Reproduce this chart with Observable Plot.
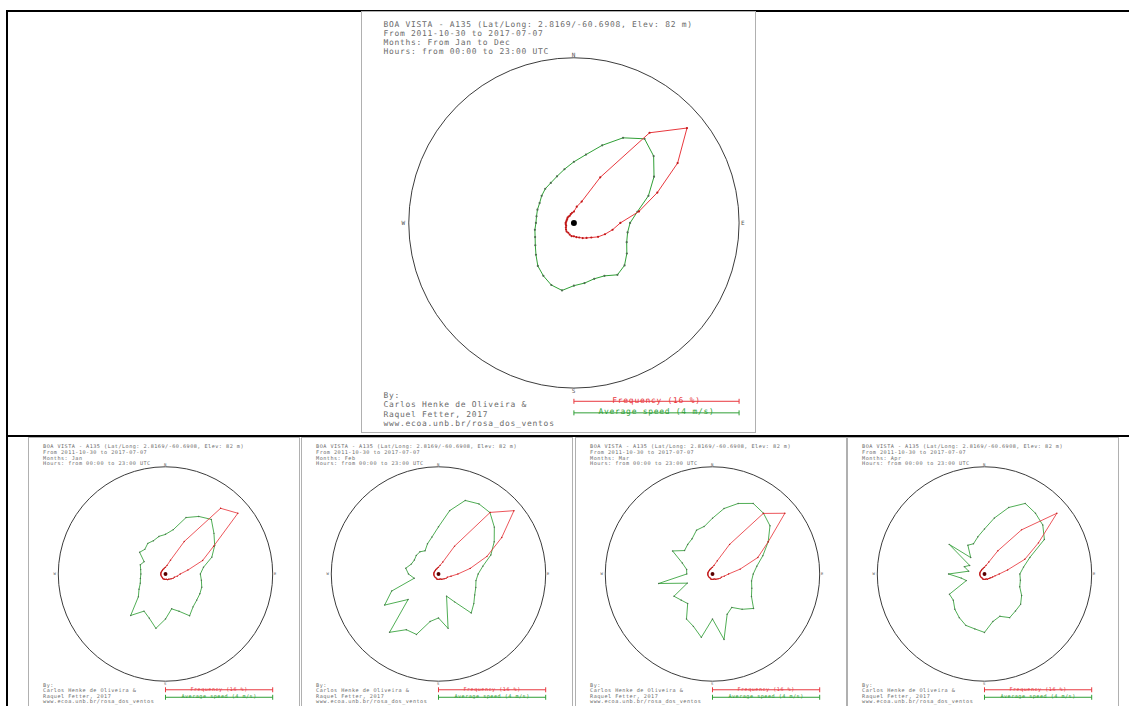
<!DOCTYPE html>
<html><head><meta charset="utf-8">
<script src="https://cdn.jsdelivr.net/npm/d3@7"></script>
<script src="https://cdn.jsdelivr.net/npm/@observablehq/plot@0.6"></script>
<style>
html,body{margin:0;padding:0;background:#fff;overflow:hidden}
#page{position:relative;width:1129px;height:706px;overflow:hidden}
.ln{position:absolute;background:#000}
.panel{position:absolute;border:1px solid #b0b0b0;box-sizing:border-box;overflow:hidden;background:#fff}
.panel svg{display:block}
</style></head><body>
<div id="page">
  <div class="ln" style="left:6px;top:10px;width:1123px;height:2px"></div>
  <div class="ln" style="left:6px;top:10px;width:2px;height:696px"></div>
  <div class="ln" style="left:6px;top:435px;width:1123px;height:2px"></div>
</div>
<script>
// ---- data (36 directions, degrees clockwise from north) ----
const directions = [0,10,20,30,40,50,60,70,80,90,100,110,120,130,140,150,160,170,180,190,200,210,220,230,240,250,260,270,280,290,300,310,320,330,340,350];
const freqMax = 16;   // % at the circle
const speedMax = 4;   // m/s at the circle

const stationLine = "BOA VISTA - A135 (Lat/Long: 2.8169/-60.6908, Elev: 82 m)";
const periodLine = "From 2011-10-30 to 2017-07-07";
const hoursLine = "Hours: from 00:00 to 23:00 UTC";
const creditLines = ["By:", "Carlos Henke de Oliveira &", "Raquel Fetter, 2017", "www.ecoa.unb.br/rosa_dos_ventos"];
const cardinals = ["N", "E", "S", "W"];
const cardinalAngles = [0, 90, 180, 270];

const allFreq  = [1.1,1.6,2.2,5.1,11.4,14.3,11.6,8.6,6.4,4.5,3.8,3.2,2.7,2.2,1.9,1.7,1.5,1.4,1.3,1.3,1.2,1.1,1.1,1.0,0.9,0.8,0.8,0.8,0.75,0.75,0.75,0.8,0.8,0.8,0.9,1.0];
const allSpeed = [1.48,1.68,2.00,2.38,2.66,2.52,2.24,1.92,1.56,1.36,1.32,1.36,1.48,1.60,1.64,1.48,1.44,1.48,1.52,1.66,1.60,1.48,1.36,1.20,1.08,1.00,0.96,0.92,0.92,0.94,0.96,1.02,1.08,1.12,1.20,1.32];

const janFreq  = [1.0,1.3,2.2,5.6,12.8,14.1,8.3,5.9,3.4,2.2,1.8,1.4,1.3,1.1,1.0,0.9,0.9,0.8,0.8,0.8,0.8,0.8,0.7,0.7,0.7,0.7,0.7,0.7,0.7,0.7,0.7,0.7,0.7,0.8,0.8,0.9];
const janSpeed = [1.48,1.68,2.24,2.48,2.66,2.36,2.12,1.84,1.44,1.30,1.36,1.44,1.48,1.52,1.60,1.80,1.48,1.32,1.68,2.06,1.76,1.60,2.02,1.32,1.14,1.00,0.95,0.92,0.94,1.00,0.92,1.26,1.20,1.32,1.32,1.42];

const febFreq  = [1.0,1.3,1.9,4.8,12.0,14.7,10.9,7.7,4.8,2.9,1.9,1.4,1.3,1.1,1.0,0.9,0.8,0.8,0.8,0.8,0.8,0.7,0.7,0.7,0.7,0.7,0.7,0.7,0.7,0.7,0.7,0.7,0.7,0.8,0.8,0.9];
const febSpeed = [1.76,2.40,2.92,3.02,2.99,2.72,2.40,2.08,1.68,1.48,1.42,1.48,1.56,1.72,1.90,1.20,0.88,2.06,1.64,1.80,2.40,2.40,2.84,1.48,2.32,1.86,0.92,1.12,1.24,1.08,1.04,1.08,1.08,1.00,1.20,1.40];

const marFreq  = [1.0,1.3,2.1,5.1,11.8,14.1,9.6,7.2,4.2,2.4,1.8,1.4,1.3,1.1,1.0,0.9,0.8,0.8,0.8,0.8,0.8,0.7,0.7,0.7,0.7,0.7,0.7,0.7,0.7,0.7,0.7,0.7,0.7,0.8,0.8,0.9];
const marSpeed = [2.08,2.48,2.80,3.04,2.96,2.80,2.40,2.00,1.68,1.52,1.48,1.56,1.68,2.00,1.72,1.44,1.60,2.48,1.68,2.40,2.08,1.94,1.44,1.52,1.66,1.00,2.04,0.96,0.98,1.20,1.72,1.36,1.44,1.52,1.74,1.80];

const aprFreq  = [1.0,1.3,1.9,4.0,8.6,14.1,9.3,6.4,3.5,2.2,1.6,1.3,1.1,1.0,0.9,0.9,0.8,0.8,0.8,0.8,0.8,0.7,0.7,0.7,0.7,0.7,0.7,0.7,0.7,0.7,0.7,0.7,0.7,0.8,0.8,0.9];
const aprSpeed = [1.68,2.12,2.64,3.04,2.96,2.84,2.58,1.80,1.48,1.32,1.36,1.40,1.60,1.76,1.80,1.88,1.68,1.80,2.18,2.08,2.04,1.88,1.72,1.52,1.51,0.72,0.88,1.34,0.60,0.80,0.64,1.72,0.80,1.24,1.20,1.41];

const panels = [
  {months: "Months: From Jan to Dec", freq: allFreq, speed: allSpeed, left: 361, top: 11, W: 395, H: 422, cx: 212.5, cy: 211.5, R: 166, k: 1},
  {months: "Months: Jan", freq: janFreq, speed: janSpeed, left: 28,  top: 437, W: 272, H: 274, cx: 137, cy: 136.5, R: 108, k: 0.65},
  {months: "Months: Feb", freq: febFreq, speed: febSpeed, left: 301, top: 437, W: 272, H: 274, cx: 137, cy: 136.5, R: 108, k: 0.65},
  {months: "Months: Mar", freq: marFreq, speed: marSpeed, left: 575, top: 437, W: 272, H: 274, cx: 137, cy: 136.5, R: 108, k: 0.65},
  {months: "Months: Apr", freq: aprFreq, speed: aprSpeed, left: 847, top: 437, W: 272, H: 274, cx: 137, cy: 136.5, R: 108, k: 0.65}
];

const RED = "#e8363c", GREEN = "#2e9e34", TXT = "#6a6a6a";

function polar(values, max) {
  return directions.map((dir, i) => {
    const a = dir * Math.PI / 180, r = values[i] / max;
    return {dir, value: values[i], x: r * Math.sin(a), y: r * Math.cos(a)};
  });
}

function rose(p) {
  const k = p.k;
  const fs = 8 * k;
  const small = k < 1;
  const red = polar(p.freq, freqMax);
  const green = polar(p.speed, speedMax);
  const card = cardinals.map((c, i) => ({c, x: Math.sin(cardinalAngles[i]*Math.PI/180), y: Math.cos(cardinalAngles[i]*Math.PI/180)}));
  const legend = [
    {label: `Frequency (${freqMax} %)`, color: RED, y: -1.08, x1: 0, x2: 1},
    {label: `Average speed (${speedMax} m/s)`, color: GREEN, y: -1.15, x1: 0, x2: 1}
  ];
  const ends = legend.flatMap(d => [{x: d.x1, y: d.y, color: d.color}, {x: d.x2, y: d.y, color: d.color}]);
  const tickH = 2.5 / p.R;
  return Plot.plot({
    width: p.W, height: p.H, margin: 0,
    x: {type: "linear", domain: [-1, 1], range: [p.cx - p.R, p.cx + p.R], axis: null},
    y: {type: "linear", domain: [-1, 1], range: [p.cy + p.R, p.cy - p.R], axis: null},
    style: {fontFamily: "'DejaVu Sans Mono', monospace", letterSpacing: `${0.75*k}px`, background: "#fff", overflow: "visible"},
    marks: [
      Plot.text([[stationLine, periodLine, p.months, hoursLine].join("\n")], {text: d => d, frameAnchor: "top-left", dx: 21*k, dy: 8.5*k, lineAnchor: "top", textAnchor: "start", fontSize: fs, lineHeight: 1.12, fill: TXT}),
      Plot.dot([{x: 0, y: 0}], {x: "x", y: "y", r: p.R, stroke: "#3a3a3a", strokeWidth: 1, fill: "none"}),
      Plot.text(card.filter(d => d.c === "N"), {x: "x", y: "y", text: "c", lineAnchor: "bottom", dy: -1*k, fontSize: 6*k, fill: "#555"}),
      Plot.text(card.filter(d => d.c === "S"), {x: "x", y: "y", text: "c", lineAnchor: "top", dy: 1*k, fontSize: 6*k, fill: "#555"}),
      Plot.text(card.filter(d => d.c === "E"), {x: "x", y: "y", text: "c", textAnchor: "start", dx: 2*k, fontSize: 6*k, fill: "#555"}),
      Plot.text(card.filter(d => d.c === "W"), {x: "x", y: "y", text: "c", textAnchor: "end", dx: -3*k, fontSize: 6*k, fill: "#555"}),
      Plot.line(green, {x: "x", y: "y", curve: "linear-closed", stroke: GREEN, strokeWidth: Math.max(k, 0.85)}),
      Plot.dot(green, {x: "x", y: "y", r: 1.1*k, fill: "#4d6e4f"}),
      Plot.line(red, {x: "x", y: "y", curve: "linear-closed", stroke: RED, strokeWidth: Math.max(k, 0.85)}),
      Plot.dot(red, {x: "x", y: "y", r: 1.1*k, fill: "#c01818"}),
      Plot.dot([{x: 0, y: 0}], {x: "x", y: "y", r: 3*k, fill: small ? "#5a0000" : "#000"}),
      Plot.link(legend, {x1: "x1", x2: "x2", y1: "y", y2: "y", stroke: "color", strokeWidth: 1}),
      Plot.link(ends, {x1: "x", x2: "x", y1: d => d.y - tickH, y2: d => d.y + tickH, stroke: "color", strokeWidth: 1}),
      Plot.text(legend, {x: d => (d.x1 + d.x2) / 2, y: "y", text: "label", fill: "color", lineAnchor: "bottom", dy: 1.5*k, fontSize: fs}),
      Plot.text([creditLines.join("\n")], {text: d => d, frameAnchor: "top-left", dx: 21*k, dy: small ? 246.5 : 381, lineAnchor: "top", textAnchor: "start", fontSize: fs, lineHeight: small ? 1.03 : 1.16, fill: TXT})
    ]
  });
}

const page = document.getElementById("page");
for (const p of panels) {
  const div = document.createElement("div");
  div.className = "panel";
  div.style.left = p.left + "px";
  div.style.top = p.top + "px";
  div.style.width = p.W + "px";
  div.style.height = p.H + "px";
  div.appendChild(rose(p));
  page.appendChild(div);
}
</script>
</body></html>
